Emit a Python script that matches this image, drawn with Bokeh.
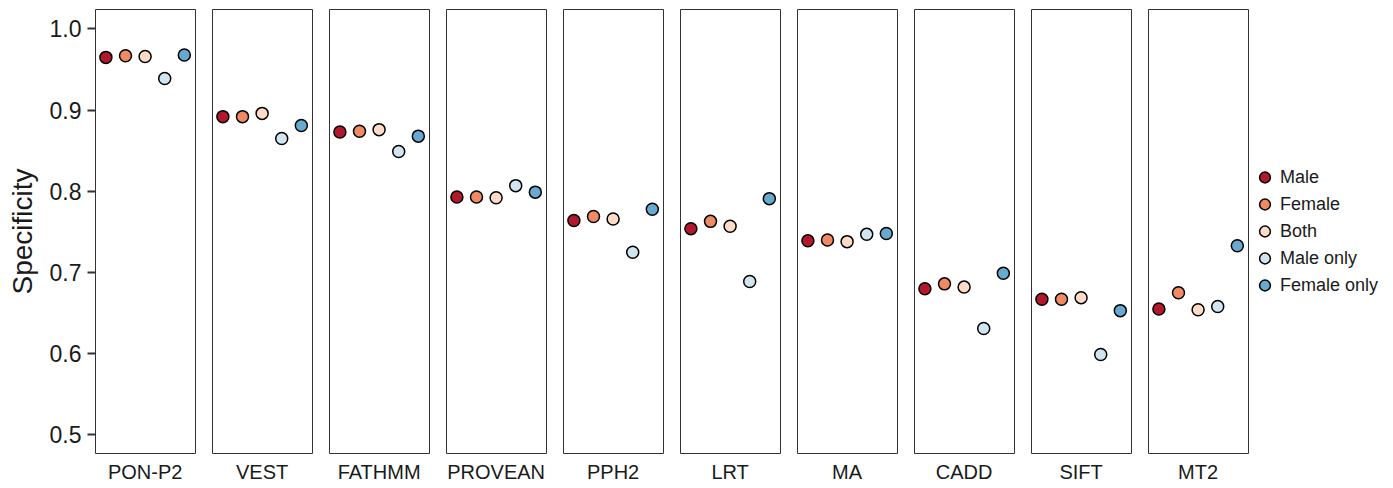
from bokeh.plotting import figure
from bokeh.layouts import row
from bokeh.models import Range1d, FixedTicker, Legend, LegendItem, NumeralTickFormatter
from bokeh.embed import file_html
from bokeh.resources import INLINE

tools = ["PON-P2", "VEST", "FATHMM", "PROVEAN", "PPH2", "LRT", "MA", "CADD", "SIFT", "MT2"]
groups = ["Male", "Female", "Both", "Male only", "Female only"]
colors = ["#B2182B", "#EF8A62", "#FDDBC7", "#D1E5F0", "#67A9CF"]

male = [0.965, 0.892, 0.873, 0.793, 0.764, 0.754, 0.739, 0.680, 0.667, 0.655]
female = [0.967, 0.892, 0.874, 0.793, 0.769, 0.763, 0.740, 0.686, 0.667, 0.675]
both = [0.966, 0.896, 0.876, 0.792, 0.766, 0.757, 0.738, 0.682, 0.669, 0.654]
male_only = [0.939, 0.865, 0.849, 0.807, 0.725, 0.689, 0.747, 0.631, 0.599, 0.658]
female_only = [0.968, 0.881, 0.868, 0.799, 0.778, 0.791, 0.748, 0.699, 0.653, 0.733]

series = [male, female, both, male_only, female_only]
y_ticks = [0.5, 0.6, 0.7, 0.8, 0.9, 1.0]

FONT = "Liberation Sans"
TXT = "#1a1a1a"
H = 486
TOP = 9
BOTTOM = 33

figs = []
for i, tool in enumerate(tools):
    first = i == 0
    w = 196 if first else 117
    p = figure(
        width=w, height=H,
        x_range=Range1d(0.47, 5.57), y_range=Range1d(0.477, 1.024),
        output_backend="svg", toolbar_location=None,
        y_axis_location="left" if first else None,
        min_border=0,
        min_border_left=95 if first else 16,
        min_border_right=1,
        min_border_top=TOP, min_border_bottom=BOTTOM,
    )
    p.xgrid.visible = False
    p.ygrid.visible = False
    p.outline_line_color = "#333333"
    p.outline_line_width = 1
    p.background_fill_color = "white"
    p.border_fill_color = "white"

    p.xaxis.ticker = FixedTicker(ticks=[3])
    p.xaxis.major_label_overrides = {3: tool}
    p.xaxis.axis_line_color = None
    p.xaxis.major_tick_line_color = None
    p.xaxis.minor_tick_line_color = None
    p.xaxis.major_tick_out = 0
    p.xaxis.major_tick_in = 0
    p.xaxis.major_label_standoff = 7
    p.xaxis.major_label_text_font = FONT
    p.xaxis.major_label_text_font_size = "20px"
    p.xaxis.major_label_text_color = TXT

    if first:
        p.yaxis.ticker = FixedTicker(ticks=y_ticks)
        p.yaxis.formatter = NumeralTickFormatter(format="0.0")
        p.yaxis.axis_line_color = None
        p.yaxis.major_tick_out = 8
        p.yaxis.major_tick_in = 0
        p.yaxis.minor_tick_line_color = None
        p.yaxis.major_tick_line_color = "#333333"
        p.yaxis.major_tick_line_width = 2
        p.yaxis.major_label_standoff = 6
        p.yaxis.major_label_text_font = FONT
        p.yaxis.major_label_text_font_size = "23px"
        p.yaxis.major_label_text_color = TXT
        p.yaxis.axis_label = "Specificity"
        p.yaxis.axis_label_text_font = FONT
        p.yaxis.axis_label_text_font_size = "28px"
        p.yaxis.axis_label_text_font_style = "normal"
        p.yaxis.axis_label_text_color = TXT
        p.yaxis.axis_label_standoff = 9

    for j, g in enumerate(groups):
        p.scatter([j + 1], [series[j][i]], size=12, fill_color=colors[j],
                  line_color="black", line_width=1.5)
    figs.append(p)

# legend panel: key glyphs drawn from the last panel's values, kept outside the visible range
lg = figure(
    width=140, height=H, output_backend="svg", toolbar_location=None,
    x_axis_location=None, y_axis_location=None,
    x_range=Range1d(100, 101), y_range=Range1d(100, 101),
    min_border=0, min_border_top=TOP, min_border_bottom=BOTTOM,
)
lg.xgrid.visible = False
lg.ygrid.visible = False
lg.outline_line_color = None
items = []
for j, g in enumerate(groups):
    r = lg.scatter([j + 1], [series[j][-1]], size=12, fill_color=colors[j],
                   line_color="black", line_width=1.5)
    items.append(LegendItem(label=g, renderers=[r]))
legend = Legend(
    items=items, location="center_left",
    border_line_color=None, background_fill_alpha=0,
    label_text_font=FONT, label_text_font_size="18px", label_text_color=TXT,
    glyph_width=27, glyph_height=27, label_height=27,
    spacing=0, padding=0, margin=2, label_standoff=2,
)
lg.add_layout(legend, "center")
figs.append(lg)

layout = row(*figs)
open("out.html", "w").write(file_html(layout, INLINE))
